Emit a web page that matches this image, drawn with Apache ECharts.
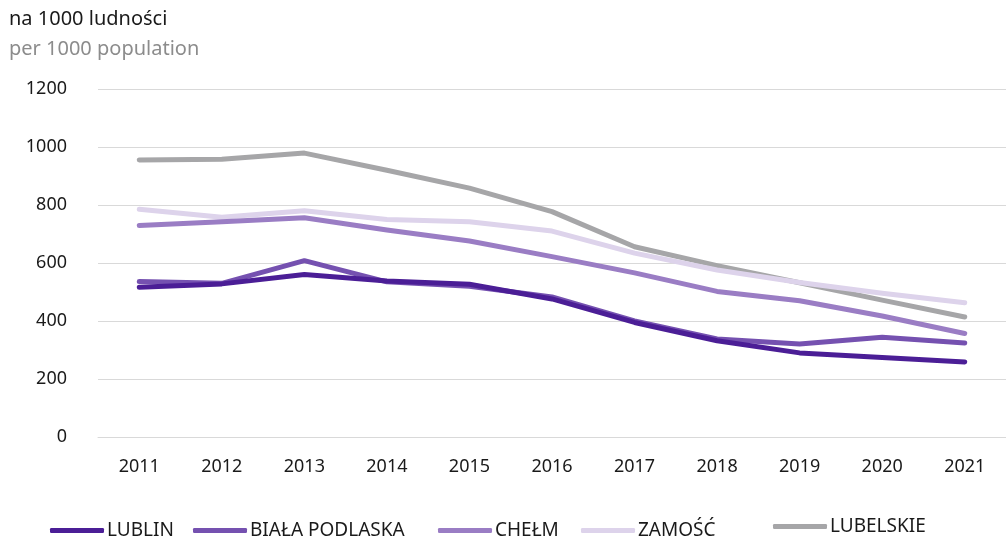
<!DOCTYPE html>
<html>
<head>
<meta charset="utf-8">
<script src="https://cdn.jsdelivr.net/npm/echarts@6/dist/echarts.min.js"></script>
<style>
  html, body { margin: 0; padding: 0; background: #fff; }
  #chart { width: 1006px; height: 538px; }
</style>
</head>
<body>
<div id="chart"></div>
<script>
const years = ['2011', '2012', '2013', '2014', '2015', '2016', '2017', '2018', '2019', '2020', '2021'];
const lublin = [516, 528, 560, 538, 527, 476, 395, 332, 290, 274, 259];
const bialaPodlaska = [536, 530, 608, 535, 520, 483, 400, 338, 321, 344, 324];
const chelm = [729, 742, 756, 714, 676, 622, 566, 502, 470, 417, 357];
const zamosc = [785, 758, 780, 750, 742, 710, 634, 576, 533, 496, 463];
const lubelskie = [955, 958, 979, 920, 858, 777, 656, 591, 532, 472, 414];
const yTicks = [0, 200, 400, 600, 800, 1000, 1200];

const font = '"Noto Sans", sans-serif';
const colors = ['#4b1e96', '#7551b0', '#9a7dc4', '#ddd3eb', '#a6a6a8'];
const names = ['LUBLIN', 'BIAŁA PODLASKA', 'CHEŁM', 'ZAMOŚĆ', 'LUBELSKIE'];
const values = [lublin, bialaPodlaska, chelm, zamosc, lubelskie];
// legend positions (each item placed on its own)
const legendLeft = [50, 193, 438, 581, 773];
const legendTop = [521, 521, 521, 521, 517];

const chart = echarts.init(document.getElementById('chart'));
chart.setOption({
  animation: false,
  color: colors,
  title: [
    { text: 'na 1000 ludności', left: 9, top: 9, padding: 0,
      textStyle: { fontFamily: font, fontSize: 20, fontWeight: 'normal', color: '#1a1a1a' } },
    { text: 'per 1000 population', left: 9, top: 39, padding: 0,
      textStyle: { fontFamily: font, fontSize: 20, fontWeight: 'normal', color: '#8c8c8c' } }
  ],
  legend: names.map((n, i) => ({
    data: [n],
    left: legendLeft[i],
    top: legendTop[i],
    padding: 0,
    icon: 'roundRect',
    itemWidth: 54,
    itemHeight: 5,
    textStyle: { fontFamily: font, fontSize: 19, color: '#1a1a1a', padding: [0, 0, 0, -2] }
  })),
  grid: { left: 98, right: -14, top: 89, bottom: 101 },
  xAxis: {
    type: 'category',
    data: years,
    boundaryGap: true,
    axisLine: { show: true, lineStyle: { color: '#d9d9d9' } },
    axisTick: { show: false },
    axisLabel: { fontFamily: font, fontSize: 18, color: '#1a1a1a', margin: 21 }
  },
  yAxis: {
    type: 'value',
    min: yTicks[0],
    max: yTicks[yTicks.length - 1],
    interval: 200,
    axisLine: { show: false },
    axisTick: { show: false },
    splitLine: { lineStyle: { color: '#d9d9d9' } },
    axisLabel: { fontFamily: font, fontSize: 18, color: '#1a1a1a', margin: 31,
      formatter: v => String(v) }
  },
  series: names.map((n, i) => ({
    name: n,
    type: 'line',
    data: values[i],
    symbol: 'none',
    z: 10 - i,
    lineStyle: { width: 5, color: colors[i], cap: 'round', join: 'round' }
  }))
});
</script>
</body>
</html>
